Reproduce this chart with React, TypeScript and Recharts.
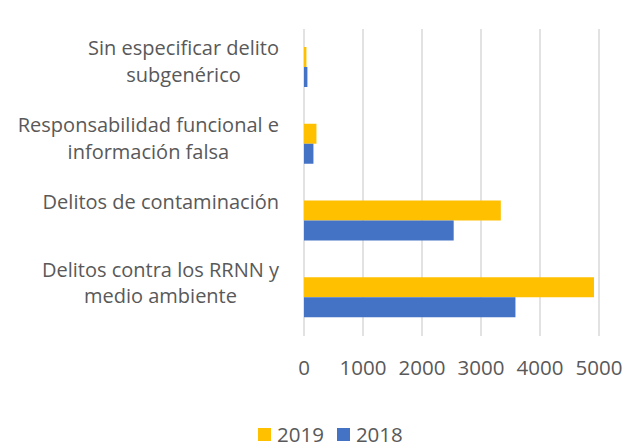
import React from "react";
import { BarChart, Bar, XAxis, YAxis, CartesianGrid } from "recharts";

const categories = [
  "Sin especificar delito subgenérico",
  "Responsabilidad funcional e información falsa",
  "Delitos de contaminación",
  "Delitos contra los RRNN y medio ambiente",
];
const values2019 = [41, 211, 3336, 4915];
const values2018 = [58, 160, 2537, 3584];
const seriesNames = ["2019", "2018"];
const seriesColors = ["#FFC000", "#4472C4"];
const xTicks = [0, 1000, 2000, 3000, 4000, 5000];

const data = categories.map((c, i) => ({
  name: c,
  "2019": values2019[i],
  "2018": values2018[i],
}));

const TEXT = "#595959";
const FONT = "Open Sans";
const LABEL_SIZE = 20;
const TICK_SIZE = 20.5;

let ctx: CanvasRenderingContext2D | null = null;
function measure(t: string): number {
  if (!ctx) {
    const c = document.createElement("canvas");
    ctx = c.getContext("2d");
  }
  if (!ctx) return t.length * 10;
  ctx.font = `${LABEL_SIZE}px "${FONT}"`;
  return ctx.measureText(t).width;
}

function wrap(text: string, maxW: number): string[] {
  const words = text.split(" ");
  const lines: string[] = [];
  let cur = "";
  for (const w of words) {
    const cand = cur ? cur + " " + w : w;
    if (cur && measure(cand) > maxW) {
      lines.push(cur);
      cur = w;
    } else cur = cand;
  }
  if (cur) lines.push(cur);
  return lines;
}

const YTick = (props: any) => {
  const { x, y, payload, index } = props;
  const lines = wrap(String(payload.value), 275);
  const maxW = Math.max(...lines.map(measure));
  const cx = x - 25 - maxW / 2;
  const first = y - 12 - (index === categories.length - 1 ? 9 : 0);
  return (
    <text textAnchor="middle" fill={TEXT} fontFamily={FONT} fontSize={LABEL_SIZE}>
      {lines.map((l, i) => (
        <tspan key={i} x={cx} y={first + i * 26.5}>
          {l}
        </tspan>
      ))}
    </text>
  );
};

const XTick = (props: any) => {
  const { x, y, payload } = props;
  return (
    <text x={x} y={y + 39} textAnchor="middle" fill={TEXT} fontFamily={FONT} fontSize={TICK_SIZE}>
      {payload.value}
    </text>
  );
};

export default function App() {
  return (
    <div style={{ position: "absolute", left: 0, top: 0, width: 624, height: 448, background: "#fff", overflow: "hidden" }}>
      <BarChart
        width={624}
        height={448}
        data={data}
        layout="vertical"
        margin={{ top: 29, right: 25, bottom: 0, left: 0 }}
        barGap={0}
      >
        <CartesianGrid horizontal={false} stroke="#d9d9d9" strokeWidth={1.5} />
        <XAxis
          type="number"
          domain={[0, 5000]}
          ticks={xTicks}
          axisLine={false}
          tickLine={false}
          tickSize={0}
          tickMargin={0}
          height={112}
          tick={<XTick />}
          interval={0}
        />
        <YAxis
          type="category"
          dataKey="name"
          width={304}
          axisLine={false}
          tickLine={false}
          tickSize={0}
          tickMargin={0}
          tick={<YTick />}
          interval={0}
        />
        {seriesNames.map((s, i) => (
          <Bar key={s} dataKey={s} fill={seriesColors[i]} barSize={20} isAnimationActive={false} />
        ))}
      </BarChart>
      <div
        style={{
          position: "absolute",
          left: 258,
          top: 426,
          display: "flex",
          alignItems: "center",
          fontFamily: FONT,
          fontSize: TICK_SIZE,
          color: TEXT,
          lineHeight: "16px",
          height: 16,
        }}
      >
        {seriesNames.map((s, i) => (
          <div key={s} style={{ display: "flex", alignItems: "center", marginRight: 13 }}>
            <div style={{ width: 13, height: 13, background: seriesColors[i], marginRight: 6 }} />
            <span>{s}</span>
          </div>
        ))}
      </div>
    </div>
  );
}
